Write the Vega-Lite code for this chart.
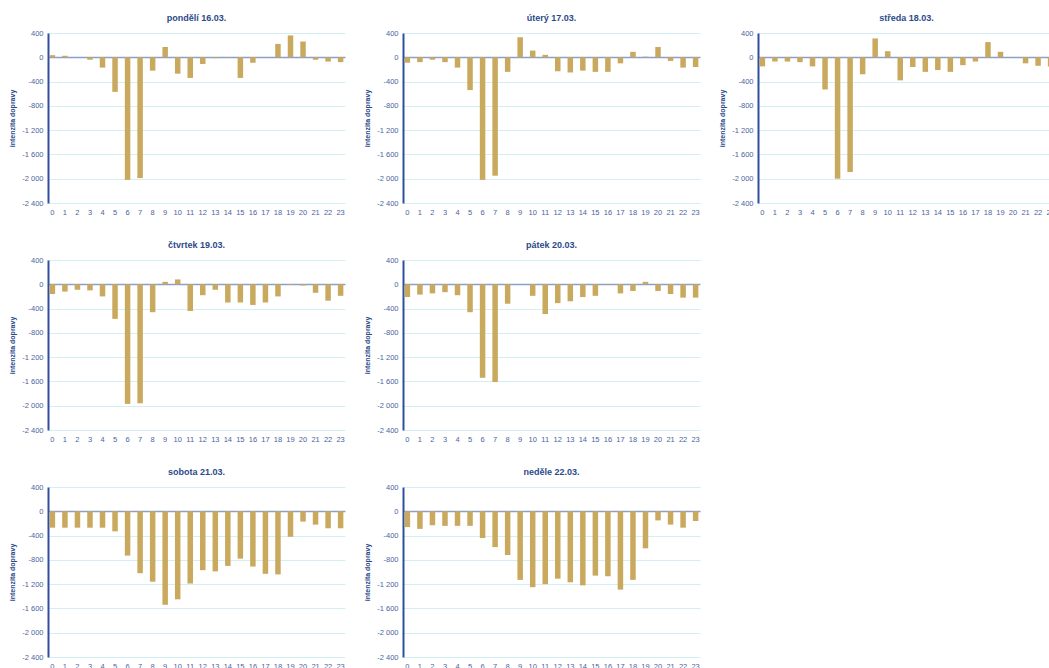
{
  "$schema": "https://vega.github.io/schema/vega-lite/v6.json",
  "padding": {"left": 8, "top": 14, "right": 0, "bottom": 0},
  "background": "white",
  "config": {
    "font": "Liberation Sans",
    "view": {"stroke": null},
    "title": {"fontSize": 9, "fontWeight": "bold", "color": "#2b4a8b", "offset": 6, "anchor": "middle", "font": "Liberation Sans"},
    "axisX": {"title": null, "labelAngle": 0, "ticks": false, "domain": false, "labelFontSize": 7.5, "labelColor": "#4a64a0", "labelPadding": 5, "grid": false, "labelFont": "Liberation Sans"},
    "axisY": {"titleFontSize": 7, "titleFontWeight": "bold", "titleColor": "#2b4a8b", "titlePadding": 6, "labelFontSize": 7.5, "labelColor": "#4a64a0", "labelPadding": 5, "ticks": false, "domainColor": "#2e4f9e", "domainWidth": 2, "labelOverlap": false, "labelFont": "Liberation Sans", "titleFont": "Liberation Sans", "zindex": 1},
    "bar": {"color": "#c9a95e"}
  },
  "data": {"values": [
    {"den":"pondělí 16.03.","hodina":0,"hodnota":35},{"den":"pondělí 16.03.","hodina":1,"hodnota":25},{"den":"pondělí 16.03.","hodina":2,"hodnota":0},{"den":"pondělí 16.03.","hodina":3,"hodnota":-40},{"den":"pondělí 16.03.","hodina":4,"hodnota":-170},{"den":"pondělí 16.03.","hodina":5,"hodnota":-570},{"den":"pondělí 16.03.","hodina":6,"hodnota":-2020},{"den":"pondělí 16.03.","hodina":7,"hodnota":-1990},{"den":"pondělí 16.03.","hodina":8,"hodnota":-220},{"den":"pondělí 16.03.","hodina":9,"hodnota":170},{"den":"pondělí 16.03.","hodina":10,"hodnota":-270},{"den":"pondělí 16.03.","hodina":11,"hodnota":-340},{"den":"pondělí 16.03.","hodina":12,"hodnota":-110},{"den":"pondělí 16.03.","hodina":13,"hodnota":-15},{"den":"pondělí 16.03.","hodina":14,"hodnota":-5},{"den":"pondělí 16.03.","hodina":15,"hodnota":-340},{"den":"pondělí 16.03.","hodina":16,"hodnota":-90},{"den":"pondělí 16.03.","hodina":17,"hodnota":0},{"den":"pondělí 16.03.","hodina":18,"hodnota":220},{"den":"pondělí 16.03.","hodina":19,"hodnota":360},{"den":"pondělí 16.03.","hodina":20,"hodnota":260},{"den":"pondělí 16.03.","hodina":21,"hodnota":-40},{"den":"pondělí 16.03.","hodina":22,"hodnota":-70},{"den":"pondělí 16.03.","hodina":23,"hodnota":-80},
    {"den":"úterý 17.03.","hodina":0,"hodnota":-90},{"den":"úterý 17.03.","hodina":1,"hodnota":-80},{"den":"úterý 17.03.","hodina":2,"hodnota":-40},{"den":"úterý 17.03.","hodina":3,"hodnota":-80},{"den":"úterý 17.03.","hodina":4,"hodnota":-170},{"den":"úterý 17.03.","hodina":5,"hodnota":-540},{"den":"úterý 17.03.","hodina":6,"hodnota":-2020},{"den":"úterý 17.03.","hodina":7,"hodnota":-1950},{"den":"úterý 17.03.","hodina":8,"hodnota":-240},{"den":"úterý 17.03.","hodina":9,"hodnota":330},{"den":"úterý 17.03.","hodina":10,"hodnota":110},{"den":"úterý 17.03.","hodina":11,"hodnota":40},{"den":"úterý 17.03.","hodina":12,"hodnota":-230},{"den":"úterý 17.03.","hodina":13,"hodnota":-250},{"den":"úterý 17.03.","hodina":14,"hodnota":-220},{"den":"úterý 17.03.","hodina":15,"hodnota":-240},{"den":"úterý 17.03.","hodina":16,"hodnota":-240},{"den":"úterý 17.03.","hodina":17,"hodnota":-100},{"den":"úterý 17.03.","hodina":18,"hodnota":90},{"den":"úterý 17.03.","hodina":19,"hodnota":10},{"den":"úterý 17.03.","hodina":20,"hodnota":170},{"den":"úterý 17.03.","hodina":21,"hodnota":-60},{"den":"úterý 17.03.","hodina":22,"hodnota":-170},{"den":"úterý 17.03.","hodina":23,"hodnota":-160},
    {"den":"středa 18.03.","hodina":0,"hodnota":-150},{"den":"středa 18.03.","hodina":1,"hodnota":-70},{"den":"středa 18.03.","hodina":2,"hodnota":-70},{"den":"středa 18.03.","hodina":3,"hodnota":-80},{"den":"středa 18.03.","hodina":4,"hodnota":-150},{"den":"středa 18.03.","hodina":5,"hodnota":-530},{"den":"středa 18.03.","hodina":6,"hodnota":-2000},{"den":"středa 18.03.","hodina":7,"hodnota":-1890},{"den":"středa 18.03.","hodina":8,"hodnota":-280},{"den":"středa 18.03.","hodina":9,"hodnota":310},{"den":"středa 18.03.","hodina":10,"hodnota":100},{"den":"středa 18.03.","hodina":11,"hodnota":-380},{"den":"středa 18.03.","hodina":12,"hodnota":-160},{"den":"středa 18.03.","hodina":13,"hodnota":-240},{"den":"středa 18.03.","hodina":14,"hodnota":-210},{"den":"středa 18.03.","hodina":15,"hodnota":-240},{"den":"středa 18.03.","hodina":16,"hodnota":-130},{"den":"středa 18.03.","hodina":17,"hodnota":-70},{"den":"středa 18.03.","hodina":18,"hodnota":250},{"den":"středa 18.03.","hodina":19,"hodnota":90},{"den":"středa 18.03.","hodina":20,"hodnota":0},{"den":"středa 18.03.","hodina":21,"hodnota":-100},{"den":"středa 18.03.","hodina":22,"hodnota":-140},{"den":"středa 18.03.","hodina":23,"hodnota":-150},
    {"den":"čtvrtek 19.03.","hodina":0,"hodnota":-160},{"den":"čtvrtek 19.03.","hodina":1,"hodnota":-120},{"den":"čtvrtek 19.03.","hodina":2,"hodnota":-90},{"den":"čtvrtek 19.03.","hodina":3,"hodnota":-100},{"den":"čtvrtek 19.03.","hodina":4,"hodnota":-200},{"den":"čtvrtek 19.03.","hodina":5,"hodnota":-570},{"den":"čtvrtek 19.03.","hodina":6,"hodnota":-1970},{"den":"čtvrtek 19.03.","hodina":7,"hodnota":-1960},{"den":"čtvrtek 19.03.","hodina":8,"hodnota":-460},{"den":"čtvrtek 19.03.","hodina":9,"hodnota":40},{"den":"čtvrtek 19.03.","hodina":10,"hodnota":80},{"den":"čtvrtek 19.03.","hodina":11,"hodnota":-440},{"den":"čtvrtek 19.03.","hodina":12,"hodnota":-180},{"den":"čtvrtek 19.03.","hodina":13,"hodnota":-90},{"den":"čtvrtek 19.03.","hodina":14,"hodnota":-300},{"den":"čtvrtek 19.03.","hodina":15,"hodnota":-300},{"den":"čtvrtek 19.03.","hodina":16,"hodnota":-340},{"den":"čtvrtek 19.03.","hodina":17,"hodnota":-300},{"den":"čtvrtek 19.03.","hodina":18,"hodnota":-200},{"den":"čtvrtek 19.03.","hodina":19,"hodnota":-10},{"den":"čtvrtek 19.03.","hodina":20,"hodnota":-20},{"den":"čtvrtek 19.03.","hodina":21,"hodnota":-140},{"den":"čtvrtek 19.03.","hodina":22,"hodnota":-270},{"den":"čtvrtek 19.03.","hodina":23,"hodnota":-190},
    {"den":"pátek 20.03.","hodina":0,"hodnota":-210},{"den":"pátek 20.03.","hodina":1,"hodnota":-170},{"den":"pátek 20.03.","hodina":2,"hodnota":-150},{"den":"pátek 20.03.","hodina":3,"hodnota":-130},{"den":"pátek 20.03.","hodina":4,"hodnota":-180},{"den":"pátek 20.03.","hodina":5,"hodnota":-460},{"den":"pátek 20.03.","hodina":6,"hodnota":-1540},{"den":"pátek 20.03.","hodina":7,"hodnota":-1610},{"den":"pátek 20.03.","hodina":8,"hodnota":-320},{"den":"pátek 20.03.","hodina":9,"hodnota":0},{"den":"pátek 20.03.","hodina":10,"hodnota":-190},{"den":"pátek 20.03.","hodina":11,"hodnota":-490},{"den":"pátek 20.03.","hodina":12,"hodnota":-310},{"den":"pátek 20.03.","hodina":13,"hodnota":-280},{"den":"pátek 20.03.","hodina":14,"hodnota":-210},{"den":"pátek 20.03.","hodina":15,"hodnota":-190},{"den":"pátek 20.03.","hodina":16,"hodnota":5},{"den":"pátek 20.03.","hodina":17,"hodnota":-150},{"den":"pátek 20.03.","hodina":18,"hodnota":-110},{"den":"pátek 20.03.","hodina":19,"hodnota":40},{"den":"pátek 20.03.","hodina":20,"hodnota":-110},{"den":"pátek 20.03.","hodina":21,"hodnota":-160},{"den":"pátek 20.03.","hodina":22,"hodnota":-220},{"den":"pátek 20.03.","hodina":23,"hodnota":-220},
    {"den":"sobota 21.03.","hodina":0,"hodnota":-270},{"den":"sobota 21.03.","hodina":1,"hodnota":-270},{"den":"sobota 21.03.","hodina":2,"hodnota":-270},{"den":"sobota 21.03.","hodina":3,"hodnota":-270},{"den":"sobota 21.03.","hodina":4,"hodnota":-270},{"den":"sobota 21.03.","hodina":5,"hodnota":-330},{"den":"sobota 21.03.","hodina":6,"hodnota":-730},{"den":"sobota 21.03.","hodina":7,"hodnota":-1020},{"den":"sobota 21.03.","hodina":8,"hodnota":-1160},{"den":"sobota 21.03.","hodina":9,"hodnota":-1540},{"den":"sobota 21.03.","hodina":10,"hodnota":-1450},{"den":"sobota 21.03.","hodina":11,"hodnota":-1190},{"den":"sobota 21.03.","hodina":12,"hodnota":-970},{"den":"sobota 21.03.","hodina":13,"hodnota":-990},{"den":"sobota 21.03.","hodina":14,"hodnota":-900},{"den":"sobota 21.03.","hodina":15,"hodnota":-780},{"den":"sobota 21.03.","hodina":16,"hodnota":-910},{"den":"sobota 21.03.","hodina":17,"hodnota":-1030},{"den":"sobota 21.03.","hodina":18,"hodnota":-1040},{"den":"sobota 21.03.","hodina":19,"hodnota":-420},{"den":"sobota 21.03.","hodina":20,"hodnota":-170},{"den":"sobota 21.03.","hodina":21,"hodnota":-220},{"den":"sobota 21.03.","hodina":22,"hodnota":-280},{"den":"sobota 21.03.","hodina":23,"hodnota":-280},
    {"den":"neděle 22.03.","hodina":0,"hodnota":-260},{"den":"neděle 22.03.","hodina":1,"hodnota":-290},{"den":"neděle 22.03.","hodina":2,"hodnota":-230},{"den":"neděle 22.03.","hodina":3,"hodnota":-240},{"den":"neděle 22.03.","hodina":4,"hodnota":-240},{"den":"neděle 22.03.","hodina":5,"hodnota":-240},{"den":"neděle 22.03.","hodina":6,"hodnota":-440},{"den":"neděle 22.03.","hodina":7,"hodnota":-590},{"den":"neděle 22.03.","hodina":8,"hodnota":-720},{"den":"neděle 22.03.","hodina":9,"hodnota":-1130},{"den":"neděle 22.03.","hodina":10,"hodnota":-1250},{"den":"neděle 22.03.","hodina":11,"hodnota":-1200},{"den":"neděle 22.03.","hodina":12,"hodnota":-1110},{"den":"neděle 22.03.","hodina":13,"hodnota":-1170},{"den":"neděle 22.03.","hodina":14,"hodnota":-1220},{"den":"neděle 22.03.","hodina":15,"hodnota":-1060},{"den":"neděle 22.03.","hodina":16,"hodnota":-1070},{"den":"neděle 22.03.","hodina":17,"hodnota":-1290},{"den":"neděle 22.03.","hodina":18,"hodnota":-1130},{"den":"neděle 22.03.","hodina":19,"hodnota":-610},{"den":"neděle 22.03.","hodina":20,"hodnota":-150},{"den":"neděle 22.03.","hodina":21,"hodnota":-220},{"den":"neděle 22.03.","hodina":22,"hodnota":-270},{"den":"neděle 22.03.","hodina":23,"hodnota":-160}
  ]},
  "spacing": 25,
  "vconcat": [
    {"spacing": 18, "hconcat": [
      {"title": "pondělí 16.03.", "transform": [{"filter": "datum.den == 'pondělí 16.03.'"}], "width": 297, "height": 170,
        "mark": {"type": "bar", "width": 5.5}, "encoding": {"x": {"field": "hodina", "type": "ordinal", "scale": {"paddingInner": 0.5, "paddingOuter": 0.1}}, "y": {"field": "hodnota", "type": "quantitative", "scale": {"domain": [-2400, 400], "nice": false, "zero": false}, "axis": {"title": "intenzita dopravy", "values": [-2400, -2000, -1600, -1200, -800, -400, 0, 400], "labelExpr": "replace(replace(format(datum.value, ','), ',', ' '), '\u2212', '-')", "gridColor": {"condition": {"test": "datum.value === 0", "value": "#8c9fc9"}, "value": "#d3eef5"}, "gridWidth": {"condition": {"test": "datum.value === 0", "value": 1.5}, "value": 1}}}}},
      {"title": "úterý 17.03.", "transform": [{"filter": "datum.den == 'úterý 17.03.'"}], "width": 297, "height": 170,
        "mark": {"type": "bar", "width": 5.5}, "encoding": {"x": {"field": "hodina", "type": "ordinal", "scale": {"paddingInner": 0.5, "paddingOuter": 0.1}}, "y": {"field": "hodnota", "type": "quantitative", "scale": {"domain": [-2400, 400], "nice": false, "zero": false}, "axis": {"title": "intenzita dopravy", "values": [-2400, -2000, -1600, -1200, -800, -400, 0, 400], "labelExpr": "replace(replace(format(datum.value, ','), ',', ' '), '\u2212', '-')", "gridColor": {"condition": {"test": "datum.value === 0", "value": "#8c9fc9"}, "value": "#d3eef5"}, "gridWidth": {"condition": {"test": "datum.value === 0", "value": 1.5}, "value": 1}}}}},
      {"title": "středa 18.03.", "transform": [{"filter": "datum.den == 'středa 18.03.'"}], "width": 297, "height": 170,
        "mark": {"type": "bar", "width": 5.5}, "encoding": {"x": {"field": "hodina", "type": "ordinal", "scale": {"paddingInner": 0.5, "paddingOuter": 0.1}}, "y": {"field": "hodnota", "type": "quantitative", "scale": {"domain": [-2400, 400], "nice": false, "zero": false}, "axis": {"title": "intenzita dopravy", "values": [-2400, -2000, -1600, -1200, -800, -400, 0, 400], "labelExpr": "replace(replace(format(datum.value, ','), ',', ' '), '\u2212', '-')", "gridColor": {"condition": {"test": "datum.value === 0", "value": "#8c9fc9"}, "value": "#d3eef5"}, "gridWidth": {"condition": {"test": "datum.value === 0", "value": 1.5}, "value": 1}}}}}
    ]},
    {"spacing": 18, "hconcat": [
      {"title": "čtvrtek 19.03.", "transform": [{"filter": "datum.den == 'čtvrtek 19.03.'"}], "width": 297, "height": 170,
        "mark": {"type": "bar", "width": 5.5}, "encoding": {"x": {"field": "hodina", "type": "ordinal", "scale": {"paddingInner": 0.5, "paddingOuter": 0.1}}, "y": {"field": "hodnota", "type": "quantitative", "scale": {"domain": [-2400, 400], "nice": false, "zero": false}, "axis": {"title": "intenzita dopravy", "values": [-2400, -2000, -1600, -1200, -800, -400, 0, 400], "labelExpr": "replace(replace(format(datum.value, ','), ',', ' '), '\u2212', '-')", "gridColor": {"condition": {"test": "datum.value === 0", "value": "#8c9fc9"}, "value": "#d3eef5"}, "gridWidth": {"condition": {"test": "datum.value === 0", "value": 1.5}, "value": 1}}}}},
      {"title": "pátek 20.03.", "transform": [{"filter": "datum.den == 'pátek 20.03.'"}], "width": 297, "height": 170,
        "mark": {"type": "bar", "width": 5.5}, "encoding": {"x": {"field": "hodina", "type": "ordinal", "scale": {"paddingInner": 0.5, "paddingOuter": 0.1}}, "y": {"field": "hodnota", "type": "quantitative", "scale": {"domain": [-2400, 400], "nice": false, "zero": false}, "axis": {"title": "intenzita dopravy", "values": [-2400, -2000, -1600, -1200, -800, -400, 0, 400], "labelExpr": "replace(replace(format(datum.value, ','), ',', ' '), '\u2212', '-')", "gridColor": {"condition": {"test": "datum.value === 0", "value": "#8c9fc9"}, "value": "#d3eef5"}, "gridWidth": {"condition": {"test": "datum.value === 0", "value": 1.5}, "value": 1}}}}}
    ]},
    {"spacing": 18, "hconcat": [
      {"title": "sobota 21.03.", "transform": [{"filter": "datum.den == 'sobota 21.03.'"}], "width": 297, "height": 170,
        "mark": {"type": "bar", "width": 5.5}, "encoding": {"x": {"field": "hodina", "type": "ordinal", "scale": {"paddingInner": 0.5, "paddingOuter": 0.1}}, "y": {"field": "hodnota", "type": "quantitative", "scale": {"domain": [-2400, 400], "nice": false, "zero": false}, "axis": {"title": "intenzita dopravy", "values": [-2400, -2000, -1600, -1200, -800, -400, 0, 400], "labelExpr": "replace(replace(format(datum.value, ','), ',', ' '), '\u2212', '-')", "gridColor": {"condition": {"test": "datum.value === 0", "value": "#8c9fc9"}, "value": "#d3eef5"}, "gridWidth": {"condition": {"test": "datum.value === 0", "value": 1.5}, "value": 1}}}}},
      {"title": "neděle 22.03.", "transform": [{"filter": "datum.den == 'neděle 22.03.'"}], "width": 297, "height": 170,
        "mark": {"type": "bar", "width": 5.5}, "encoding": {"x": {"field": "hodina", "type": "ordinal", "scale": {"paddingInner": 0.5, "paddingOuter": 0.1}}, "y": {"field": "hodnota", "type": "quantitative", "scale": {"domain": [-2400, 400], "nice": false, "zero": false}, "axis": {"title": "intenzita dopravy", "values": [-2400, -2000, -1600, -1200, -800, -400, 0, 400], "labelExpr": "replace(replace(format(datum.value, ','), ',', ' '), '\u2212', '-')", "gridColor": {"condition": {"test": "datum.value === 0", "value": "#8c9fc9"}, "value": "#d3eef5"}, "gridWidth": {"condition": {"test": "datum.value === 0", "value": 1.5}, "value": 1}}}}}
    ]}
  ]
}
